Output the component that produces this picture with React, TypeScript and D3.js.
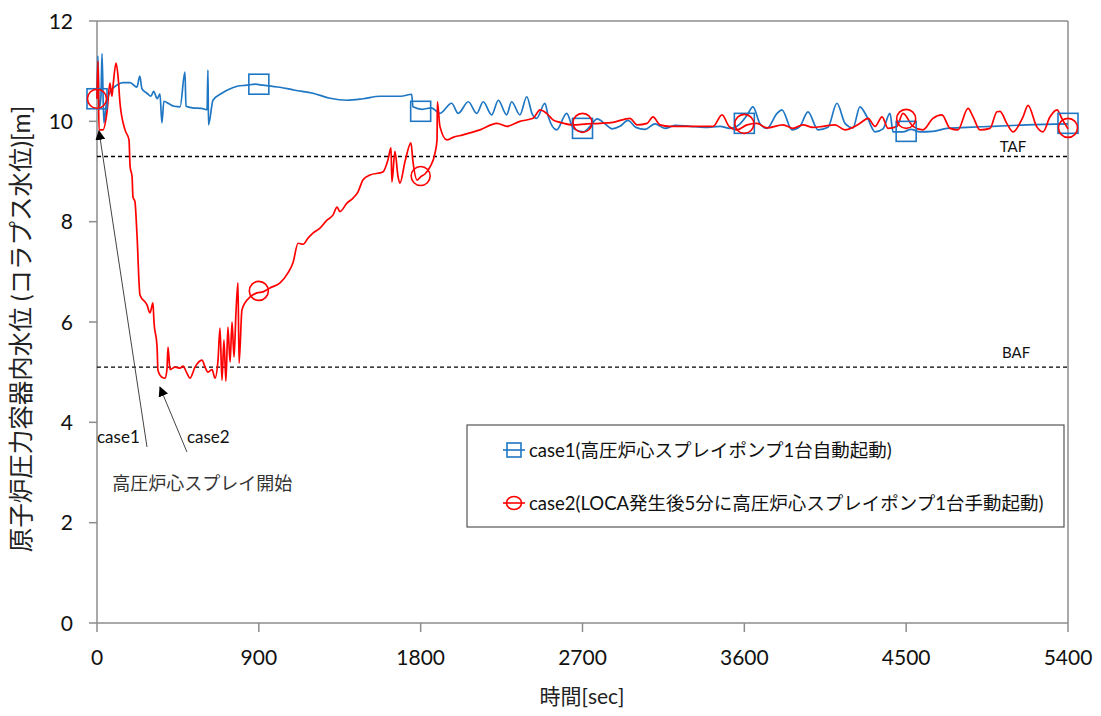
import React from "react";
import * as d3 from "d3";

// Time axis [sec] and water level axis [m]
const xTicks = [0, 900, 1800, 2700, 3600, 4500, 5400];
const yTicks = [0, 2, 4, 6, 8, 10, 12];

// Reference levels: top / bottom of active fuel
const TAF = 9.3;
const BAF = 5.1;

// case1: HPCS pump auto start — [time s, level m]
const case1Series: [number, number][] = [
  [0, 10.45], [5, 11.3], [12, 10.25], [22, 10.5], [28, 11.35], [38, 9.97], [50, 10.3],
  [72, 10.58], [110, 10.72], [145, 10.77], [184, 10.77], [222, 10.68], [238, 10.9],
  [250, 10.65], [278, 10.56], [300, 10.5], [315, 10.6], [335, 10.45], [350, 10.55],
  [361, 9.97], [372, 10.4], [400, 10.35], [430, 10.3], [462, 10.29], [489, 10.98],
  [495, 10.3], [530, 10.27], [580, 10.26], [612, 10.23], [617, 11.02], [620, 9.93],
  [645, 10.42], [690, 10.55], [723, 10.62], [780, 10.7], [834, 10.72], [880, 10.74],
  [923, 10.72], [970, 10.7], [1017, 10.68], [1100, 10.62], [1201, 10.56], [1296, 10.46],
  [1390, 10.42], [1480, 10.45], [1574, 10.5], [1630, 10.5], [1690, 10.5], [1750, 10.54],
  [1757, 10.29], [1810, 10.24], [1860, 10.27], [1907, 10.16], [1972, 10.36], [2009, 10.16],
  [2065, 10.39], [2112, 10.16], [2148, 10.39], [2195, 10.13], [2232, 10.42], [2278, 10.13],
  [2306, 10.39], [2352, 10.13], [2390, 10.49], [2420, 10.15], [2445, 10.06], [2491, 10.36],
  [2510, 10.09], [2556, 9.83], [2612, 10.16], [2649, 9.86], [2704, 9.79], [2742, 9.9],
  [2781, 10.05], [2825, 9.95], [2864, 9.85], [2908, 9.9], [2953, 10.02], [2997, 9.88],
  [3047, 9.84], [3103, 9.95], [3159, 9.86], [3214, 9.92], [3298, 9.9], [3381, 9.88],
  [3465, 9.9], [3520, 9.86], [3576, 9.95], [3615, 10.12], [3648, 10.29], [3687, 9.95],
  [3726, 9.86], [3782, 10.16], [3809, 10.23], [3865, 9.83], [3909, 9.9], [3954, 10.19],
  [4010, 9.83], [4065, 9.88], [4115, 10.36], [4160, 9.96], [4204, 9.87], [4243, 10.29],
  [4282, 10.09], [4327, 9.79], [4371, 9.85], [4410, 10.16], [4427, 9.79], [4482, 9.79],
  [4527, 9.84], [4577, 9.79], [4649, 9.8], [4727, 9.86], [4838, 9.88], [4983, 9.9],
  [5172, 9.93], [5400, 9.95],
];

// case2: HPCS pump manual start 5 min after LOCA — [time s, level m]
const case2Series: [number, number][] = [
  [0, 10.45], [6, 11.2], [11, 9.83], [33, 9.83], [56, 10.2], [72, 10.76], [83, 10.5],
  [89, 10.7], [106, 11.16], [117, 10.9], [128, 10.36], [156, 9.83], [178, 9.63],
  [184, 9.1], [195, 8.9], [200, 8.49], [211, 8.4], [222, 7.77], [239, 6.54], [278, 6.34],
  [295, 6.18], [311, 6.38], [317, 6.0], [334, 5.5], [339, 5.04], [361, 4.9], [378, 4.88],
  [389, 5.05], [395, 5.5], [406, 5.05], [434, 5.1], [462, 5.08], [478, 5.12], [500, 4.98],
  [517, 4.88], [545, 5.1], [584, 5.24], [601, 5.1], [617, 5.0], [640, 5.05], [656, 4.88],
  [673, 5.24], [684, 5.88], [695, 4.84], [706, 5.64], [717, 4.82], [728, 5.9], [740, 5.2],
  [751, 6.0], [762, 5.3], [773, 6.2], [784, 6.78], [790, 5.18], [806, 6.24], [823, 6.38],
  [851, 6.5], [890, 6.58], [923, 6.6], [962, 6.68], [1018, 6.78], [1062, 6.98],
  [1090, 7.18], [1118, 7.57], [1146, 7.55], [1173, 7.67], [1201, 7.77], [1240, 7.87],
  [1279, 8.03], [1312, 8.13], [1335, 8.29], [1351, 8.2], [1390, 8.37], [1424, 8.47],
  [1451, 8.59], [1479, 8.83], [1518, 8.93], [1590, 8.99], [1618, 9.23], [1635, 9.47],
  [1640, 8.79], [1657, 9.4], [1674, 8.9], [1685, 8.77], [1713, 9.2], [1746, 9.57],
  [1757, 9.2], [1780, 8.83], [1802, 8.9], [1824, 8.95], [1852, 9.09], [1880, 9.37],
  [1891, 9.63], [1893, 10.39], [1907, 9.9], [1946, 9.63], [1980, 9.68], [2035, 9.73],
  [2130, 9.83], [2224, 9.96], [2280, 9.9], [2352, 10.0], [2425, 10.06], [2464, 10.23],
  [2503, 10.15], [2536, 10.03], [2575, 9.98], [2647, 9.93], [2725, 9.95], [2797, 9.96],
  [2870, 9.98], [2964, 10.06], [3003, 9.93], [3059, 9.96], [3092, 10.09], [3131, 9.93],
  [3186, 9.9], [3298, 9.9], [3426, 9.9], [3476, 10.13], [3515, 9.9], [3559, 9.83],
  [3615, 9.93], [3670, 9.96], [3726, 9.87], [3815, 9.93], [3870, 9.86], [3926, 9.93],
  [3982, 9.88], [4037, 9.9], [4104, 9.93], [4160, 9.83], [4204, 9.88], [4243, 9.96],
  [4288, 10.06], [4327, 9.9], [4366, 10.09], [4399, 9.86], [4449, 9.9], [4482, 10.16],
  [4538, 9.9], [4593, 9.83], [4649, 10.06], [4699, 10.13], [4744, 9.86], [4788, 9.83],
  [4844, 10.26], [4871, 10.1], [4910, 9.83], [4966, 9.86], [5005, 10.19], [5022, 10.2],
  [5061, 9.95], [5094, 9.79], [5150, 10.09], [5178, 10.32], [5225, 9.9], [5261, 9.79],
  [5300, 10.09], [5339, 10.23], [5367, 10.05], [5400, 9.85],
];

// Marker positions every 900 s
const markerTimes = [0, 900, 1800, 2700, 3600, 4500, 5400];
const case1Markers = [10.45, 10.74, 10.2, 9.86, 9.96, 9.8, 9.96];
const case2Markers = [10.45, 6.62, 8.91, 9.97, 9.95, 10.05, 9.87];

const labels = {
  yTitle: "原子炉圧力容器内水位 (コラプス水位)[m]",
  xTitle: "時間[sec]",
  case1: "case1(高圧炉心スプレイポンプ1台自動起動)",
  case2: "case2(LOCA発生後5分に高圧炉心スプレイポンプ1台手動起動)",
  start: "高圧炉心スプレイ開始",
};

const BLUE = "#1f77c4";
const RED = "#ff0000";
const AXIS = "#8c8c8c";
const FONT = "Lato, 'Noto Sans CJK JP', sans-serif";

export default function App() {
  const x = d3.scaleLinear().domain([0, 5400]).range([97, 1068]);
  const y = d3.scaleLinear().domain([0, 12]).range([623, 21]);
  const line = d3
    .line<[number, number]>()
    .x((d) => x(d[0]))
    .y((d) => y(d[1]))
    .curve(d3.curveMonotoneX);

  const x0 = x(0);
  const x1 = x(5400);
  const yTop = y(12);
  const yBot = y(0);

  return (
    <svg
      width={1101}
      height={716}
      style={{ position: "absolute", left: 0, top: 0, background: "#fff" }}
      fontFamily={FONT}
    >
      <defs>
        <marker id="arrowHead" viewBox="0 0 10 10" refX="9" refY="5" markerWidth="10" markerHeight="12" markerUnits="userSpaceOnUse" orient="auto">
          <path d="M0,0 L10,5 L0,10 z" fill="#000" />
        </marker>
      </defs>

      {/* frame */}
      <line x1={x0} x2={x1} y1={yTop} y2={yTop} stroke={AXIS} strokeWidth={1.5} />
      <line x1={x1} x2={x1} y1={yTop} y2={yBot} stroke={AXIS} strokeWidth={1.5} />
      <line x1={x0} x2={x0} y1={yTop} y2={yBot} stroke={AXIS} strokeWidth={1.5} />
      <line x1={x0} x2={x1} y1={yBot} y2={yBot} stroke={AXIS} strokeWidth={1.5} />

      {/* y ticks */}
      {yTicks.map((t) => (
        <g key={"y" + t}>
          <line x1={x0 - 8} x2={x0} y1={y(t)} y2={y(t)} stroke={AXIS} strokeWidth={1.5} />
          <text x={x0 - 24} y={y(t)} dy="0.36em" textAnchor="end" fontSize={21} fill="#111">
            {t}
          </text>
        </g>
      ))}

      {/* x ticks */}
      {xTicks.map((t) => (
        <g key={"x" + t}>
          <line x1={x(t)} x2={x(t)} y1={yBot} y2={yBot + 9} stroke={AXIS} strokeWidth={1.5} />
          <text x={x(t)} y={yBot + 42} textAnchor="middle" fontSize={21} fill="#111">
            {t}
          </text>
        </g>
      ))}

      {/* axis titles */}
      <text x={582} y={704} textAnchor="middle" fontSize={21} fill="#222">
        {labels.xTitle}
      </text>
      <text
        transform={`translate(30, ${329}) rotate(-90)`}
        textAnchor="middle"
        fontSize={24.5}
        fill="#222"
      >
        {labels.yTitle}
      </text>

      {/* TAF / BAF */}
      <line x1={x0} x2={x1} y1={y(TAF)} y2={y(TAF)} stroke="#000" strokeWidth={1.4} strokeDasharray="4,3" />
      <line x1={x0} x2={x1} y1={y(BAF)} y2={y(BAF)} stroke="#000" strokeWidth={1.4} strokeDasharray="4,3" />
      <text x={x(5094)} y={y(TAF) - 4} textAnchor="middle" fontSize={15} fill="#111">TAF</text>
      <text x={x(5111)} y={y(BAF) - 9} textAnchor="middle" fontSize={15} fill="#111">BAF</text>

      {/* series */}
      <path d={line(case1Series) || ""} fill="none" stroke={BLUE} strokeWidth={1.7} strokeLinejoin="round" />
      <path d={line(case2Series) || ""} fill="none" stroke={RED} strokeWidth={1.7} strokeLinejoin="round" />

      {markerTimes.map((t, i) => (
        <rect
          key={"m1" + t}
          x={x(t) - 10}
          y={y(case1Markers[i]) - 10}
          width={20}
          height={20}
          fill="none"
          stroke={BLUE}
          strokeWidth={1.6}
        />
      ))}
      {markerTimes.map((t, i) => (
        <circle key={"m2" + t} cx={x(t)} cy={y(case2Markers[i])} r={9.5} fill="none" stroke={RED} strokeWidth={1.6} />
      ))}

      {/* annotations */}
      <line x1={x(278)} y1={y(3.51)} x2={x(11)} y2={y(9.81)} stroke="#444" strokeWidth={1} markerEnd="url(#arrowHead)" />
      <line x1={x(500)} y1={y(3.41)} x2={x(350)} y2={y(4.7)} stroke="#444" strokeWidth={1} markerEnd="url(#arrowHead)" />
      <text x={x(0)} y={y(3.59)} fontSize={17} fill="#111">case1</text>
      <text x={x(500)} y={y(3.59)} fontSize={17} fill="#111">case2</text>
      <text x={x(85)} y={y(2.65)} fontSize={18} fill="#333">{labels.start}</text>

      {/* legend */}
      <rect x={467} y={425} width={597} height={102} fill="#fff" stroke="#555" strokeWidth={1.2} />
      <line x1={503} x2={525} y1={450} y2={450} stroke={BLUE} strokeWidth={1.6} />
      <rect x={507} y={443} width={14} height={14} fill="none" stroke={BLUE} strokeWidth={1.6} />
      <text x={529} y={450} dy="0.36em" fontSize={18.5} fill="#111">{labels.case1}</text>
      <line x1={503} x2={525} y1={503} y2={503} stroke={RED} strokeWidth={1.6} />
      <ellipse cx={514} cy={503} rx={7.5} ry={6.5} fill="none" stroke={RED} strokeWidth={1.6} />
      <text x={529} y={503} dy="0.36em" fontSize={18.5} fill="#111">{labels.case2}</text>
    </svg>
  );
}
